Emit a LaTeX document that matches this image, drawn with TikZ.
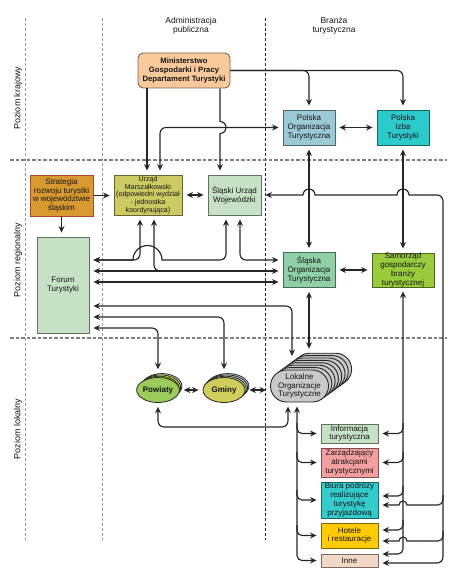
\documentclass[tikz,border=0pt]{standalone}
\usepackage{fontspec}
\setmainfont{Liberation Sans}
\usetikzlibrary{arrows.meta,shapes.geometric}
\definecolor{ministry}{HTML}{F9C89B}
\definecolor{potblue}{HTML}{9CC9D6}
\definecolor{pitteal}{HTML}{2DCACC}
\definecolor{strategy}{HTML}{D89A30}
\definecolor{strategyrim}{HTML}{B0452A}
\definecolor{marshal}{HTML}{CCCB63}
\definecolor{paleleaf}{HTML}{C6E1C6}
\definecolor{sotgreen}{HTML}{8FD0A6}
\definecolor{selfgov}{HTML}{9ACB3C}
\definecolor{powgreen}{HTML}{9BCB5A}
\definecolor{gminolive}{HTML}{CFCD5C}
\definecolor{lotgray}{HTML}{C9C9C9}
\definecolor{attract}{HTML}{F5A0A0}
\definecolor{travel}{HTML}{33CBCB}
\definecolor{hotel}{HTML}{FFCB05}
\definecolor{other}{HTML}{F2D7C6}
\begin{document}
\begin{tikzpicture}[
    x=1pt, y=-1pt,
    every node/.style={font=\fontsize{8}{8.8}\selectfont, text=black!92, align=center, inner sep=0pt},
    box/.style={draw=#1!50!black, fill=#1, line width=0.9pt, minimum width=52pt, minimum height=35pt},
    box/.default=paleleaf,
    oval/.style={ellipse, draw=black!85, line width=0.8pt, minimum width=40pt, minimum height=25pt, font=\fontsize{8}{8.8}\selectfont\bfseries},
    lotk/.style={draw=black!85, fill=lotgray, line width=0.9pt, rounded corners=16pt, minimum width=58pt, minimum height=32pt},
    levelline/.style={draw=gray, dash pattern=on 3.5pt off 2pt, line width=1.1pt},
    colline/.style={draw=gray!80, dash pattern=on 3pt off 2pt, line width=0.9pt},
    wire/.style={draw=black!85, line width=1.15pt},
    link/.style={wire, -{Stealth[length=6.5pt,width=6pt]}, shorten >=4pt},
    both/.style={wire, {Stealth[length=6.5pt,width=6pt]}-{Stealth[length=6.5pt,width=6pt]}, shorten >=4pt, shorten <=4pt}
  ]
  \useasboundingbox (0,0) rectangle (457,585);

  \draw[colline] (25,18) -- (25,540);
  \draw[colline] (102,18) -- (102,540);
  \draw[draw=black!85, line width=0.7pt, dash pattern=on 3pt off 2pt] (265,18) -- (265,540);
  \draw[levelline] (10,160) -- (447,160);
  \draw[levelline] (10,338) -- (447,338);

  \node[font=\fontsize{8.5}{9.2}\selectfont] (adm) at (191,26) {Administracja\\publiczna};
  \node[font=\fontsize{8.5}{9.2}\selectfont] (bra) at (334,26) {Branża\\turystyczna};
  \node[rotate=90, font=\fontsize{9}{10}\selectfont] (krajowy) at (18,98) {Poziom krajowy};
  \node[rotate=90, font=\fontsize{9}{10}\selectfont] (regionalny) at (18,260) {Poziom regionalny};
  \node[rotate=90, font=\fontsize{9}{10}\selectfont] (lokalny) at (18,429) {Poziom lokalny};

  \node[box=ministry, rounded corners=5pt, minimum width=92pt, font=\fontsize{7.7}{8.8}\selectfont\bfseries] (min) at (184,70.5) {Ministerstwo\\Gospodarki i Pracy\\Departament Turystyki};
  \node[box=potblue] (pot) at (309,127.5) {Polska\\Organizacja\\Turystyczna};
  \node[box=pitteal] (pit) at (403,127.5) {Polska\\Izba\\Turystyki};
  \node[box=strategy, draw=strategyrim, minimum width=63pt, minimum height=41pt] (strat) at (61.5,195.5) {Strategia\\rozwoju turystki\\w województwie\\śląskim};
  \node[box=marshal, minimum width=68pt, minimum height=40pt, font=\fontsize{7.1}{7.6}\selectfont] (um) at (148,195) {Urząd\\Marszałkowski\\(odpowiedni wydział\\- jednostka\\koordynująca)};
  \node[box=paleleaf, minimum width=53pt, minimum height=40pt] (suw) at (234.5,195) {Śląski Urząd\\Wojewódzki};
  \node[box=paleleaf, minimum height=96pt] (forum) at (63,285) {Forum\\Turystyki};
  \node[box=sotgreen] (sot) at (309,270) {Śląska\\Organizacja\\Turystyczna};
  \node[box=selfgov, minimum width=62pt, minimum height=34pt] (sam) at (403,270) {Samorząd\\gospodarczy\\branży\\turystycznej};

  \foreach \i/\c in {3/gray!40, 2/yellow!80, 1/lime!70!green} \node[oval, fill=\c] (pow\i) at (158+1.3*\i,390-1.3*\i) {};
  \node[oval, fill=powgreen] (pow) at (158,390) {Powiaty};
  \foreach \i/\c in {3/gray!40, 2/cyan!30, 1/gminolive!80} \node[oval, fill=\c, minimum width=42pt] (gmi\i) at (224+1.3*\i,390-1.3*\i) {};
  \node[oval, fill=gminolive, minimum width=42pt] (gmi) at (224,390) {Gminy};
  \foreach \i in {7,6,...,1} \node[lotk] (lot\i) at (299.5+3.3*\i,386-2.4*\i) {};
  \node[lotk] (lot) at (299.5,386) {Lokalne\\Organizacje\\Turystyczne};

  \node[box=paleleaf, minimum width=57pt, minimum height=19pt] (info) at (349.5,433.5) {Informacja\\turystyczna};
  \node[box=attract, minimum width=57pt, minimum height=29pt] (zarz) at (349.5,462.5) {Zarządzający\\atrakcjami\\turystycznymi};
  \node[box=travel, minimum width=57pt, minimum height=36pt] (biura) at (349.5,500) {Biura podróży\\realizujące\\turystykę\\przyjazdową};
  \node[box=hotel, minimum width=57pt, minimum height=25pt] (hotele) at (349.5,535.5) {Hotele\\i restauracje};
  \node[box=other, minimum width=57pt, minimum height=13pt] (inne) at (349.5,560.5) {Inne};

  \draw[link] (min.south -| 147,0) -- (um.north -| 147,0);
  \draw[link] (min.south -| 220,0) -- (220,121.5) arc[start angle=90, end angle=-90, radius=6pt] -- (suw.north -| 220,0);
  \draw[both, rounded corners=6pt] (um.north -| 160,0) |- (pot.west);
  \draw[link, rounded corners=6pt] (min.east) -| (pot.north);
  \draw[link, rounded corners=6pt] (min.east) -| (pit.north);
  \draw[both] (pot) -- (pit);
  \draw[both] (pot) -- (sot);
  \draw[both] (pit) -- (sam);

  \draw[link] (strat.east) -- (strat.east -| um.west);
  \draw[link] (strat.south) -- (strat.south |- forum.north);
  \draw[both] (um) -- (suw);
  \draw[both] (sot) -- (sam);
  \draw[link, rounded corners=6pt] (430,195) -| (443,563) -- (inne.east |- 0,563);
  \draw[link] (430,195) -- (409,195) arc[start angle=0, end angle=180, radius=6pt] -- (315,195) arc[start angle=0, end angle=180, radius=6pt] -- (suw.east);

  \draw[both, rounded corners=6pt] (um.south -| 140,0) |- (forum.east |- 0,260);
  \draw[link, rounded corners=6pt] (170,260) -| (suw.south -| 226,0);
  \draw[link] (170,260) -- (162,260) arc[start angle=0, end angle=180, radius=14.5pt] -- (forum.east |- 0,260);
  \draw[both, rounded corners=6pt] (suw.south -| 240,0) |- (sot.west |- 0,260);
  \draw[both] (forum.east |- 0,271) -- (sot.west |- 0,271);
  \draw[link, rounded corners=6pt] (161,271) -| (um.south -| 154,0);
  \draw[both] (forum.east |- 0,282) -- (sot.west |- 0,282);
  \draw[both, rounded corners=6pt] (forum.east |- 0,306) -| (292,0 |- lot4.north);
  \draw[both, rounded corners=6pt] (forum.east |- 0,317) -| (gmi.north |- gmi3.north);
  \draw[both, rounded corners=6pt] (forum.east |- 0,328) -| (pow.north |- pow3.north);
  \draw[both] (sot.south) -- (sot.south |- lot7.north);

  \draw[both] (pow) -- (gmi);
  \draw[both] (gmi.east) -- (gmi.east -| lot.west);
  \draw[both, rounded corners=6pt] (pow.south) |- (220,427) -| (lot.south -| 288,0);

  \draw[both, rounded corners=5pt] (lot.south -| 297,0) |- (inne.west);
  \draw[link, rounded corners=5pt] (297,423) |- (info.west);
  \draw[link, rounded corners=5pt] (297,452) |- (zarz.west);
  \draw[link, rounded corners=5pt] (297,490) |- (biura.west);
  \draw[link, rounded corners=5pt] (297,525) |- (hotele.west);

  \draw[both, rounded corners=5pt] (sam.south) |- (inne.east |- 0,554);
  \draw[link, rounded corners=5pt] (403,423) |- (info.east);
  \draw[link, rounded corners=5pt] (403,452) |- (zarz.east);
  \draw[link, rounded corners=5pt] (403,486) |- (biura.east |- 0,496);
  \draw[link, rounded corners=5pt] (403,520) |- (hotele.east |- 0,530);

  \draw[wire, rounded corners=5pt] (443,495) |- (420,505);
  \draw[link] (420,505) -- (407,505) arc[start angle=0, end angle=180, radius=4pt] -- (biura.east |- 0,505);
  \draw[wire, rounded corners=5pt] (443,531) |- (420,541);
  \draw[link] (420,541) -- (407,541) arc[start angle=0, end angle=180, radius=4pt] -- (hotele.east |- 0,541);
\end{tikzpicture}
\end{document}
